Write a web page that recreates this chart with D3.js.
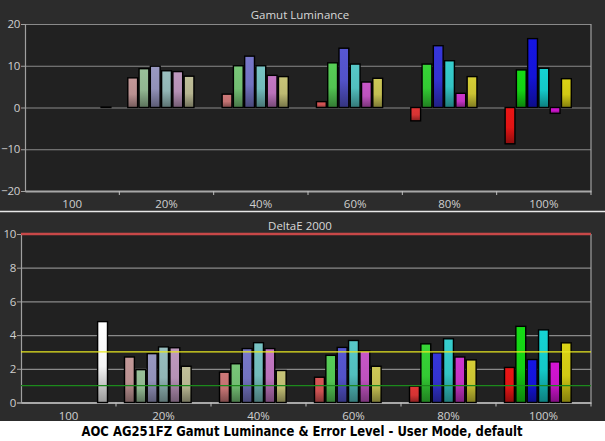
<!DOCTYPE html>
<html>
<head>
<meta charset="utf-8">
<script src="https://cdn.jsdelivr.net/npm/d3@7"></script>
<style>
  body { margin: 0; background: #fff; }
  svg { display: block; }
</style>
</head>
<body>
<svg id="canvas" width="605" height="441"></svg>
<script>
// groups along the x axis and the bar slots inside each group
const groups = ["100", "20%", "40%", "60%", "80%", "100%"];
const slots = ["R", "G", "B", "C", "M", "Y", "W"];
const hues = ["R", "G", "B", "C", "M", "Y"];

// Gamut luminance error (%)
const lumWhite = [0.1];
const lum20 = [7.1, 9.3, 9.9, 8.8, 8.6, 7.5];
const lum40 = [3.2, 10.0, 12.3, 10.0, 7.7, 7.4];
const lum60 = [1.4, 10.7, 14.2, 10.4, 6.1, 7.0];
const lum80 = [-3.2, 10.4, 14.8, 11.2, 3.4, 7.4];
const lum100 = [-8.7, 9.0, 16.5, 9.4, -1.4, 6.9];

// DeltaE 2000
const deWhite = [4.8];
const de20 = [2.7, 1.95, 2.9, 3.3, 3.25, 2.15];
const de40 = [1.8, 2.3, 3.2, 3.55, 3.2, 1.9];
const de60 = [1.5, 2.8, 3.27, 3.68, 3.05, 2.15];
const de80 = [0.97, 3.48, 2.95, 3.78, 2.7, 2.53];
const de100 = [2.08, 4.52, 2.55, 4.31, 2.41, 3.54];

const lumTicks = [-20, -10, 0, 10, 20];
const deTicks = [0, 2, 4, 6, 8, 10];
const deLimits = [10, 3, 1];

const baseColor = { R: "#e01414", G: "#14d014", B: "#1414d8", C: "#14c8c8", M: "#c814c8", Y: "#d0c814", W: "#f4f4f4" };
const limitColor = ["#c84848", "#e8e820", "#1c8a1c"];

const build = (white, sets) => {
  const rows = [{ group: groups[0], slot: "W", value: white[0] }];
  sets.forEach((vals, i) => {
    vals.forEach((v, j) => rows.push({ group: groups[i + 1], slot: hues[j], value: v }));
  });
  return rows;
};
const lumRows = build(lumWhite, [lum20, lum40, lum60, lum80, lum100]);
const deRows = build(deWhite, [de20, de40, de60, de80, de100]);

const svg = d3.select("#canvas");
svg.append("rect").attr("width", 605).attr("height", 421).attr("fill", "#2c2c2c");
svg.append("line").attr("x1", 0).attr("x2", 605).attr("y1", 211.5).attr("y2", 211.5)
  .attr("stroke", "#e8e8e8").attr("stroke-width", 1.5);

// gradients per group/colour
const defs = svg.append("defs");
const fillId = (d) => `g${groups.indexOf(d.group)}${d.slot}`;
const grayMix = "#b0b0b0";
[...lumRows, ...deRows].forEach((d) => {
  const id = fillId(d);
  if (!defs.select("#" + id).empty()) return;
  const sat = d.group === "100" ? 1 : parseFloat(d.group) / 100;
  const c = d3.interpolateRgb(grayMix, baseColor[d.slot])(sat);
  const g = defs.append("linearGradient").attr("id", id)
    .attr("x1", 0).attr("y1", 0).attr("x2", 0).attr("y2", 1);
  g.append("stop").attr("offset", "0%").attr("stop-color", d3.color(c).brighter(0.15));
  g.append("stop").attr("offset", "55%").attr("stop-color", c);
  g.append("stop").attr("offset", "100%").attr("stop-color", d3.color(c).darker(1.3));
});

const font = "'Open Sans', 'DejaVu Sans', sans-serif";

const drawPanel = (opts) => {
  const { left, right, top, bottom, domain, ticks, title, titleY } = opts;
  const x0 = d3.scaleBand().domain(groups).range([left, right]);
  const x1 = d3.scaleBand().domain(slots).range([0, x0.bandwidth()])
    .paddingInner(0.13).paddingOuter(0.75);
  const y = d3.scaleLinear().domain(domain).range([bottom, top]);
  const g = svg.append("g");

  g.append("rect").attr("x", left).attr("y", top).attr("width", right - left)
    .attr("height", bottom - top).attr("fill", "#212121");

  g.append("text").attr("x", 300).attr("y", titleY).attr("text-anchor", "middle")
    .attr("fill", "#d8d8d8").attr("font-family", font).attr("font-size", 11.5).text(title);

  // grid
  g.selectAll("line.grid").data(ticks).enter().append("line")
    .attr("class", "grid")
    .attr("x1", left).attr("x2", right)
    .attr("y1", (d) => y(d) + 0.5).attr("y2", (d) => y(d) + 0.5)
    .attr("stroke", "#8a8a8a").attr("stroke-width", 1.2);

  // y axis
  const ya = g.append("g").attr("transform", `translate(${left},0)`)
    .call(d3.axisLeft(y).tickValues(ticks).tickSize(4).tickPadding(1).tickFormat(d3.format("d")));
  ya.select(".domain").attr("stroke", "#a0a0a0").attr("stroke-width", 1.2);
  ya.selectAll(".tick line").attr("stroke", "#a0a0a0");
  ya.selectAll(".tick text").attr("fill", "#cfcfcf").attr("font-family", font)
    .attr("font-size", 11.5).attr("letter-spacing", -0.3);

  // right border
  g.append("line").attr("x1", right).attr("x2", right).attr("y1", top).attr("y2", bottom)
    .attr("stroke", "#a0a0a0").attr("stroke-width", 1.2);

  // x axis
  const xa = g.append("g").attr("transform", `translate(0,${bottom})`)
    .call(d3.axisBottom(x0).tickSize(0));
  xa.select(".domain").attr("stroke", "#a8a8a8").attr("stroke-width", 2);
  xa.selectAll(".tick text").attr("fill", "#cfcfcf").attr("font-family", font)
    .attr("font-size", 11.5).attr("dy", "1.25em");
  g.selectAll("line.sep").data(groups).enter().append("line")
    .attr("class", "sep")
    .attr("x1", (d) => x0(d) + x0.bandwidth()).attr("x2", (d) => x0(d) + x0.bandwidth())
    .attr("y1", bottom).attr("y2", bottom + 4)
    .attr("stroke", "#bdbdbd");

  return { g, x0, x1, y };
};

const drawBars = (p, rows) => {
  p.g.selectAll("rect.bar").data(rows).enter().append("rect")
    .attr("class", "bar")
    .attr("x", (d) => p.x0(d.group) + p.x1(d.slot))
    .attr("width", p.x1.bandwidth())
    .attr("y", (d) => p.y(Math.max(0, d.value)))
    .attr("height", (d) => Math.abs(p.y(d.value) - p.y(0)))
    .attr("fill", (d) => `url(#${fillId(d)})`)
    .attr("stroke", "#000").attr("stroke-width", 1.4);
};

const lumPanel = drawPanel({
  left: 25, right: 591, top: 24, bottom: 191,
  domain: [-20, 20], ticks: lumTicks, title: "Gamut Luminance", titleY: 19
});
drawBars(lumPanel, lumRows);

const dePanel = drawPanel({
  left: 21, right: 591, top: 234, bottom: 402.5,
  domain: [0, 10], ticks: deTicks, title: "DeltaE 2000", titleY: 230
});
drawBars(dePanel, deRows);
dePanel.g.selectAll("line.limit").data(deLimits).enter().append("line")
  .attr("class", "limit")
  .attr("x1", 21).attr("x2", 591)
  .attr("y1", (d) => dePanel.y(d)).attr("y2", (d) => dePanel.y(d))
  .attr("stroke", (d, i) => limitColor[i])
  .attr("stroke-width", (d, i) => (i === 0 ? 2.5 : 1.3));

// caption
svg.append("text").attr("x", 302).attr("y", 436).attr("text-anchor", "middle")
  .attr("font-family", "'DejaVu Sans', sans-serif").attr("font-weight", "bold")
  .attr("font-size", 13.5).attr("fill", "#000")
  .attr("textLength", 441).attr("lengthAdjust", "spacingAndGlyphs")
  .text("AOC AG251FZ Gamut Luminance & Error Level - User Mode, default");
</script>
</body>
</html>
